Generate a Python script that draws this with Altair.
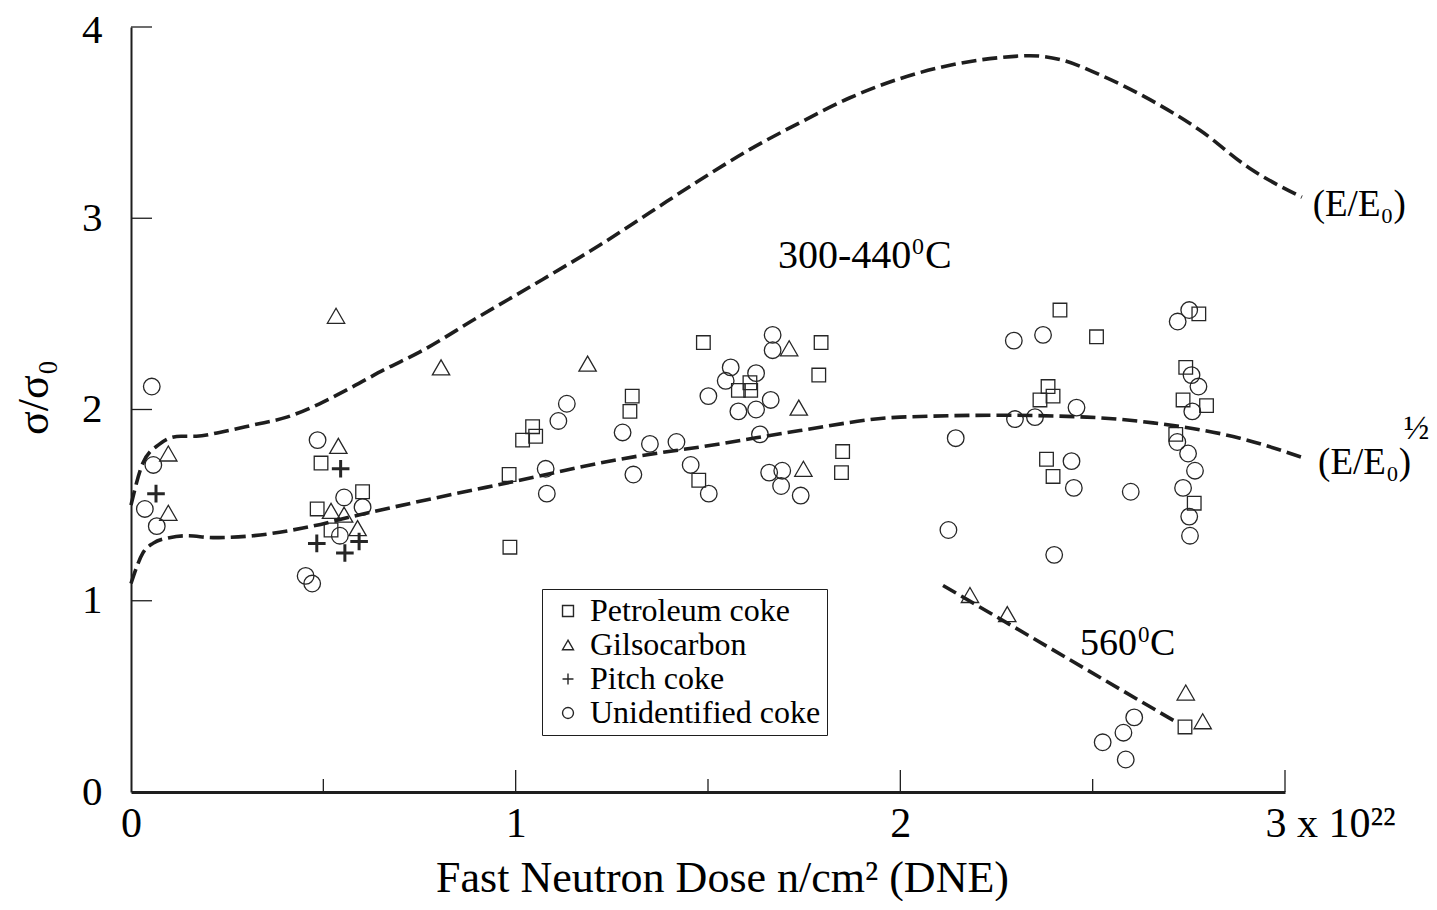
import altair as alt
import pandas as pd

FONT = "Liberation Serif"
INK = "#1e1e1e"

# ---------------- data (x in units of 1e22 n/cm^2, y = sigma/sigma0) ----------------
types = ["Petroleum coke", "Gilsocarbon", "Pitch coke", "Unidentified coke"]

petro_x = [0.494, 0.602, 0.484, 0.520, 1.488, 1.303, 1.297, 1.044, 1.052, 1.018, 0.983, 1.476, 0.985,
           1.794, 1.788, 1.609, 1.579, 1.611, 1.850, 1.847, 2.415, 2.510, 2.776, 2.742, 2.735, 2.796,
           2.384, 2.397, 2.363, 2.716, 2.380, 2.397, 2.764, 2.740]
petro_y = [1.72, 1.57, 1.48, 1.37, 2.35, 2.07, 1.99, 1.91, 1.86, 1.84, 1.66, 1.63, 1.28,
           2.35, 2.18, 2.14, 2.10, 2.10, 1.78, 1.67, 2.52, 2.38, 2.50, 2.22, 2.05, 2.02,
           2.12, 2.07, 2.05, 1.87, 1.74, 1.65, 1.51, 0.34]

gilso_x = [0.533, 0.097, 0.097, 0.539, 0.520, 0.554, 0.589, 0.806, 1.187, 1.711, 1.736, 1.748,
           2.181, 2.278, 2.742, 2.786]
gilso_y = [2.49, 1.77, 1.46, 1.81, 1.47, 1.45, 1.38, 2.22, 2.24, 2.32, 2.01, 1.69,
           1.03, 0.93, 0.52, 0.37]

pitch_x = [0.065, 0.545, 0.483, 0.593, 0.556]
pitch_y = [1.56, 1.69, 1.30, 1.31, 1.25]

unid_x = [0.054, 0.058, 0.036, 0.067, 0.485, 0.554, 0.602, 0.543, 0.454, 0.471,
          1.133, 1.111, 1.278, 1.349, 1.418, 1.501, 1.078, 1.081, 1.306, 1.455, 1.502,
          1.668, 1.668, 1.559, 1.546, 1.625, 1.663, 1.579, 1.625, 1.635, 2.144, 1.659, 1.693,
          1.690, 1.741, 2.125, 2.295, 2.371, 2.751, 2.721, 2.757, 2.775, 2.759, 2.458, 2.298,
          2.350, 2.720, 2.748, 2.766, 2.445, 2.451, 2.599, 2.735, 2.751, 2.753, 2.400,
          2.608, 2.580, 2.526, 2.586]
unid_y = [2.12, 1.71, 1.48, 1.39, 1.84, 1.54, 1.49, 1.34, 1.13, 1.09,
          2.03, 1.94, 1.88, 1.82, 1.83, 2.07, 1.69, 1.56, 1.66, 1.71, 1.56,
          2.39, 2.31, 2.22, 2.15, 2.19, 2.05, 1.99, 2.00, 1.87, 1.85, 1.67, 1.68,
          1.60, 1.55, 1.37, 2.36, 2.39, 2.52, 2.46, 2.18, 2.12, 1.99, 2.01, 1.95,
          1.96, 1.83, 1.77, 1.68, 1.73, 1.59, 1.57, 1.59, 1.44, 1.34, 1.24,
          0.39, 0.31, 0.26, 0.17]

# (E/E0) curve
upper_x = [0.0, 0.031, 0.075, 0.10, 0.13, 0.17, 0.23, 0.32, 0.405, 0.49, 0.577, 0.66, 0.75, 0.9,
           1.07, 1.219, 1.349, 1.479, 1.609, 1.739, 1.869, 1.999, 2.129, 2.259, 2.337, 2.415,
           2.519, 2.649, 2.779, 2.909, 3.044]
upper_y = [1.50, 1.72, 1.82, 1.85, 1.86, 1.86, 1.88, 1.92, 1.96, 2.03, 2.12, 2.21, 2.30, 2.48,
           2.68, 2.86, 3.03, 3.20, 3.36, 3.50, 3.63, 3.73, 3.80, 3.84, 3.85, 3.83,
           3.75, 3.62, 3.46, 3.26, 3.11]
# (E/E0)^1/2 curve
lower_x = [0.0, 0.031, 0.057, 0.10, 0.146, 0.213, 0.317, 0.447, 0.595, 0.751, 1.011, 1.271,
           1.531, 1.739, 1.999, 2.259, 2.485, 2.657, 2.883, 3.044]
lower_y = [1.09, 1.25, 1.30, 1.33, 1.34, 1.33, 1.34, 1.38, 1.45, 1.52, 1.63, 1.74,
           1.82, 1.89, 1.96, 1.97, 1.96, 1.93, 1.85, 1.75]
# 560 C line
hot_x = [2.111, 2.722]
hot_y = [1.08, 0.36]

x_major = [1, 2, 3]
x_minor = [0.5, 1.5, 2.5]
y_major = [1, 2, 3, 4]

# ---------------- tables ----------------
series_pts = [
    pd.DataFrame({"x": petro_x, "y": petro_y, "type": types[0]}),
    pd.DataFrame({"x": gilso_x, "y": gilso_y, "type": types[1]}),
    pd.DataFrame({"x": pitch_x, "y": pitch_y, "type": types[2]}),
    pd.DataFrame({"x": unid_x, "y": unid_y, "type": types[3]}),
]
curves = pd.concat([
    pd.DataFrame({"x": upper_x, "y": upper_y, "series": "E"}),
    pd.DataFrame({"x": lower_x, "y": lower_y, "series": "sqrtE"}),
], ignore_index=True)
hot = pd.DataFrame({"x": hot_x, "y": hot_y})

W, H = 1154, 765
PLUS = "M-1,0L1,0M0,-1L0,1"

xscale = alt.Scale(domain=[0, 3], nice=False, zero=False)
yscale = alt.Scale(domain=[0, 4], nice=False, zero=False)

x_axis = alt.Axis(
    values=[0, 1, 2, 3], grid=False, ticks=False, tickSize=0, format="d",
    labelExpr="datum.value == 3 ? '3 x 10\u00b2\u00b2' : datum.label",
    labelAlign={"condition": {"test": "datum.value == 3", "value": "left"}, "value": "center"},
    labelOffset={"condition": {"test": "datum.value == 3", "value": -20}, "value": 0},
    labelFont=FONT, labelFontSize=42, labelColor="black", labelBaseline="alphabetic",
    labelPadding=44, labelOverlap=False, labelFlush=False,
    domainColor=INK, domainWidth=3,
    title="Fast Neutron Dose n/cm\u00b2 (DNE)", titleFont=FONT, titleFontSize=44,
    titleFontWeight="normal", titleColor="black", titleX=591, titleY=99,
    titleBaseline="alphabetic", titleAlign="center",
)
y_axis = alt.Axis(
    values=[0, 1, 2, 3, 4], grid=False, ticks=False, tickSize=0, format="d",
    labelFont=FONT, labelFontSize=41, labelColor="black", labelPadding=29,
    labelOffset={"condition": {"test": "datum.value == 4", "value": 3}, "value": 0},
    labelOverlap=False, labelFlush=False,
    domainColor=INK, domainWidth=2,
    title="\u03c3/\u03c3\u2080", titleFont=FONT, titleFontSize=44, titleFontWeight="normal",
    titleColor="black", titleX=-84, titleY=370, titleAngle=270,
    titleBaseline="alphabetic", titleAlign="center",
)

shape_enc = alt.Shape(
    "type:N",
    scale=alt.Scale(domain=types, range=["square", "triangle-up", PLUS, "circle"]),
    legend=alt.Legend(
        orient="none", legendX=411, legendY=562, title=None,
        strokeColor=INK, fillColor="white", padding=6,
        labelFont=FONT, labelFontSize=32, labelColor="black", labelOffset=6,
        symbolSize=120, symbolStrokeColor="#262626", symbolFillColor="transparent",
        symbolStrokeWidth=1.4, rowPadding=2, labelLimit=400, symbolOffset=4,
    ),
)

mark_sizes = [185, 300, 310, 275]
mark_widths = [1.3, 1.3, 3.0, 1.3]

point_layers = []
for i, df in enumerate(series_pts):
    enc = dict(x="x:Q", y="y:Q", shape=shape_enc)
    if i == 0:
        enc = dict(x=alt.X("x:Q", scale=xscale, axis=x_axis),
                   y=alt.Y("y:Q", scale=yscale, axis=y_axis), shape=shape_enc)
    point_layers.append(
        alt.Chart(df).mark_point(filled=False, opacity=1, color="#262626",
                                 size=mark_sizes[i], strokeWidth=mark_widths[i]).encode(**enc)
    )

lines = alt.Chart(curves).mark_line(
    color=INK, strokeWidth=3.6, strokeDash=[15, 6], interpolate="monotone"
).encode(x="x:Q", y="y:Q", detail="series:N")

hot_line = alt.Chart(hot).mark_line(color=INK, strokeWidth=3.6, strokeDash=[15, 6]).encode(
    x="x:Q", y="y:Q")

xt_major = alt.Chart(pd.DataFrame({"x": x_major})).mark_rule(color=INK, strokeWidth=1.3).encode(
    x="x:Q", y=alt.value(H), y2=alt.value(H - 22))
xt_minor = alt.Chart(pd.DataFrame({"x": x_minor})).mark_rule(color=INK, strokeWidth=1.3).encode(
    x="x:Q", y=alt.value(H), y2=alt.value(H - 13))
yt_major = alt.Chart(pd.DataFrame({"y": y_major})).mark_rule(color=INK, strokeWidth=1.3).encode(
    y="y:Q", x=alt.value(0), x2=alt.value(21))


def label(t, x, y, size, align="left", baseline="alphabetic", dx=0, dy=0):
    return alt.Chart(pd.DataFrame({"x": [x], "y": [y], "t": [t]})).mark_text(
        font=FONT, fontSize=size, align=align, baseline=baseline, color="black", dx=dx, dy=dy
    ).encode(x="x:Q", y="y:Q", text="t:N")


# temperature labels (text, superscript "0", "C")
t1_x, t1_y = 1.682, 2.74
t2_x, t2_y = 2.467, 0.716
texts = [
    label("300-440", t1_x, t1_y, 40),
    label("0", t1_x, t1_y, 24, dx=134, dy=-14),
    label("C", t1_x, t1_y, 40, dx=147),
    label("560", t2_x, t2_y, 38),
    label("0", t2_x, t2_y, 23, dx=58, dy=-13),
    label("C", t2_x, t2_y, 38, dx=70),
    label("(E/E\u2080)", 3.072, 3.069, 37, baseline="middle"),
    label("(E/E\u2080)", 3.086, 1.72, 37, baseline="middle"),
    label("\u00bd", 3.342, 1.90, 34, align="center", baseline="middle"),
]

chart = alt.layer(*point_layers, lines, hot_line, xt_major, xt_minor, yt_major, *texts).properties(
    width=W, height=H,
    autosize=alt.AutoSizeParams(type="none"),
    padding={"left": 123, "top": 19, "right": 144, "bottom": 109},
    background="white",
).configure_view(stroke=None)

chart.save("out.html", embed_options={"renderer": "svg", "actions": False})
